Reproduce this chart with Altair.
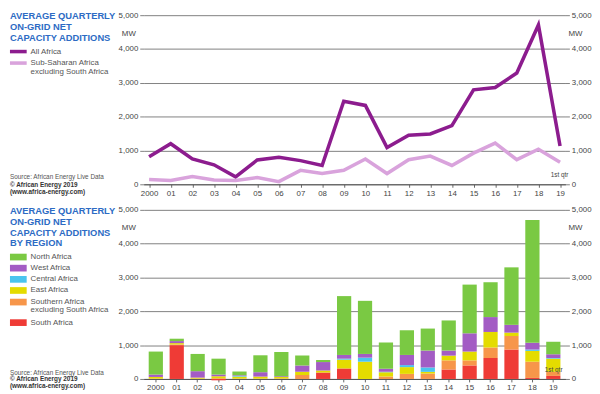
import altair as alt
import pandas as pd

# ---------------- data ----------------
years = ["2000", "01", "02", "03", "04", "05", "06", "07", "08", "09",
         "10", "11", "12", "13", "14", "15", "16", "17", "18", "19"]

all_africa = [816, 1200, 749, 576, 221, 720, 797, 700, 557, 2457,
              2332, 1084, 1449, 1488, 1737, 2793, 2860, 3292, 4712, 1132]
sub_saharan = [144, 115, 230, 125, 115, 200, 77, 413, 317, 413,
               749, 317, 729, 835, 557, 921, 1219, 729, 1036, 653]

regions = ["South Africa", "Southern Africa excluding South Africa", "East Africa",
           "Central Africa", "West Africa", "North Africa"]
south_africa = [0, 1000, 0, -40, 0, 0, 0, 0, 190, 310, 0, 0, 0, 0, 280, 400, 620, 870, 30, 90]
southern = [10, 20, 10, 20, 10, 10, 10, 120, 0, 0, 0, 70, 150, 160, 270, 150, 310, 400, 480, 120]
east = [50, 40, 30, 60, 60, 60, 50, 90, 60, 260, 510, 130, 200, 50, 140, 260, 460, 100, 320, 390]
central = [0, 0, 0, 0, 20, 0, 0, 0, 0, 30, 120, 10, 60, 130, 0, 0, 0, 0, 40, 20]
west = [70, 60, 190, 50, 20, 130, 20, 190, 250, 110, 110, 90, 300, 500, 150, 540, 440, 230, 200, 110]
north = [680, 70, 510, 470, 110, 500, 720, 290, 60, 1740, 1570, 780, 730, 650, 890, 1440, 1030, 1700, 3630, 370]
region_values = [south_africa, southern, east, central, west, north]

y_ticks = [0, 1000, 2000, 3000, 4000, 5000]

# ---------------- style ----------------
FONT = "Liberation Sans"
BLUE = "#2d6bc4"
TXT = "#555555"
AX = "#444444"
GRID = "#808080"
C_ALL = "#8c1c8e"
C_SUB = "#d9a3dc"
region_colors = ["#ef3b36", "#f7964a", "#e4dc00", "#4ac4ef", "#a35cc4", "#7ac943"]
W, H = 429, 172

line_df = pd.DataFrame({
    "year": years * 2,
    "series": ["All Africa"] * len(years) + ["Sub-Saharan"] * len(years),
    "value": all_africa + sub_saharan,
})
bar_rows = []
for oi, (reg, vals) in enumerate(zip(regions, region_values)):
    for y, v in zip(years, vals):
        bar_rows.append({"year": y, "region": reg, "value": v, "order": oi})
bar_df = pd.DataFrame(bar_rows)
tot_df = pd.DataFrame({"year": years, "value": all_africa})


def y_axis(orient):
    return alt.Axis(orient=orient, values=y_ticks, format=",d", title=None,
                    labelFont=FONT, labelFontSize=8, labelColor=AX,
                    tickSize=4, tickColor=GRID, domain=False,
                    grid=(orient == "left"), gridColor=GRID, gridWidth=1,
                    labelPadding=2)


x_axis = alt.Axis(title=None, labelAngle=0, labelFont=FONT, labelFontSize=8,
                  labelColor=AX, tickSize=3, tickColor="#666", domainColor="#555",
                  grid=False, labelPadding=2)


def txt(s, x, y, size=8, color=TXT, weight="normal", align="left"):
    return alt.Chart(alt.Data(values=[{}])).mark_text(
        text=s, fontSize=size, color=color, fontWeight=weight, align=align,
        baseline="middle", font=FONT
    ).encode(x=alt.value(x), y=alt.value(y))


def box(x1, x2, y1, y2, color):
    return alt.Chart(alt.Data(values=[{}])).mark_rect(color=color).encode(
        x=alt.value(x1), x2=alt.value(x2), y=alt.value(y1), y2=alt.value(y2))


def seg(x1, x2, y, color, w):
    return alt.Chart(alt.Data(values=[{}])).mark_rule(color=color, strokeWidth=w).encode(
        x=alt.value(x1), x2=alt.value(x2), y=alt.value(y))


TL = -136  # left edge of side text relative to plot
LT = -115  # legend text x
TS = 10.8  # title line spacing

# ---------------- top chart ----------------
xs_line = alt.X("year:O", sort=years, scale=alt.Scale(type="point", padding=0.25), axis=x_axis)
lines = alt.Chart(line_df).mark_line(strokeWidth=3.6, strokeJoin="miter").encode(
    x=xs_line,
    y=alt.Y("value:Q", scale=alt.Scale(domain=[0, 5000]), axis=y_axis("left")),
    color=alt.Color("series:N", scale=alt.Scale(domain=["All Africa", "Sub-Saharan"],
                                                range=[C_ALL, C_SUB]), legend=None),
)
right_top = alt.Chart(line_df).mark_line(opacity=0).encode(
    x=xs_line,
    y=alt.Y("value:Q", scale=alt.Scale(domain=[0, 5000]), axis=y_axis("right")),
)
top_text = [
    txt("AVERAGE QUARTERLY", TL, 1.3, 9.5, BLUE, "bold"),
    txt("ON-GRID NET", TL, 1.3 + TS, 9.5, BLUE, "bold"),
    txt("CAPACITY ADDITIONS", TL, 1.3 + 2 * TS, 9.5, BLUE, "bold"),
    seg(TL, TL + 17, 37, C_ALL, 3.6),
    txt("All Africa", LT, 37),
    seg(TL, TL + 17, 48.7, C_SUB, 3.6),
    txt("Sub-Saharan Africa", LT, 48.7),
    txt("excluding South Africa", LT, 58),
    txt("Source: African Energy Live Data", TL, H - 7.7, 6.5),
    txt("© African Energy 2019", TL, H + 0.5, 6.5, "#333", "bold"),
    txt("(www.africa-energy.com)", TL, H + 7.7, 6.5, "#333", "bold"),
    txt("MW", -8, 19, 8, AX, align="right"),
    txt("MW", W + 3, 19, 8, AX),
    txt("1st qtr", W - 6, H - 9, 6.5, AX, align="center"),
]
top = alt.layer(lines, right_top, *top_text).resolve_scale(y="independent").properties(
    width=W, height=H)

# ---------------- bottom chart ----------------
xs_bar = alt.X("year:O", sort=years, scale=alt.Scale(paddingInner=0.32, paddingOuter=0.24),
               axis=x_axis)
bars = alt.Chart(bar_df).mark_bar().encode(
    x=xs_bar,
    y=alt.Y("value:Q", stack="zero", scale=alt.Scale(domain=[0, 5000]), axis=y_axis("left")),
    color=alt.Color("region:N", scale=alt.Scale(domain=regions, range=region_colors), legend=None),
    order=alt.Order("order:Q"),
)
right_bot = alt.Chart(tot_df).mark_point(opacity=0).encode(
    x=xs_bar,
    y=alt.Y("value:Q", scale=alt.Scale(domain=[0, 5000]), axis=y_axis("right")),
)
leg_items = [("North Africa", 48, "#7ac943"), ("West Africa", 59.3, "#a35cc4"),
             ("Central Africa", 70.7, "#4ac4ef"), ("East Africa", 82, "#e4dc00"),
             ("Southern Africa", 93.8, "#f7964a"), ("South Africa", 114.7, "#ef3b36")]
bot_text = [
    txt("AVERAGE QUARTERLY", TL, 1.7, 9.5, BLUE, "bold"),
    txt("ON-GRID NET", TL, 1.7 + TS, 9.5, BLUE, "bold"),
    txt("CAPACITY ADDITIONS", TL, 1.7 + 2 * TS, 9.5, BLUE, "bold"),
    txt("BY REGION", TL, 1.7 + 3 * TS, 9.5, BLUE, "bold"),
]
for name, yy, col in leg_items:
    bot_text.append(box(TL, TL + 17, yy - 3.4, yy + 3.4, col))
    bot_text.append(txt(name, LT, yy))
bot_text += [
    txt("excluding South Africa", LT, 102.3),
    txt("Source: African Energy Live Data", TL, H - 6.3, 6.5),
    txt("© African Energy 2019", TL, H + 0.5, 6.5, "#333", "bold"),
    txt("(www.africa-energy.com)", TL, H + 7.7, 6.5, "#333", "bold"),
    txt("MW", -8, 18.3, 8, AX, align="right"),
    txt("MW", W + 3, 18.3, 8, AX),
    txt("1st qtr", W - 12, H - 9, 6.5, AX, align="center"),
]
bottom = alt.layer(bars, right_bot, *bot_text).resolve_scale(y="independent").properties(
    width=W, height=H)

chart = alt.vconcat(top, bottom, spacing=9).resolve_scale(
    color="independent"
).properties(
    padding={"left": 0, "top": 0, "right": 0, "bottom": 0},
    autosize=alt.AutoSizeParams(type="pad", contains="content"),
).configure(
    background="white", padding={"left": 0, "top": 0, "right": 0, "bottom": 0}
).configure_view(stroke=None)

chart.save("out.html", embed_options={"renderer": "svg", "actions": False})
